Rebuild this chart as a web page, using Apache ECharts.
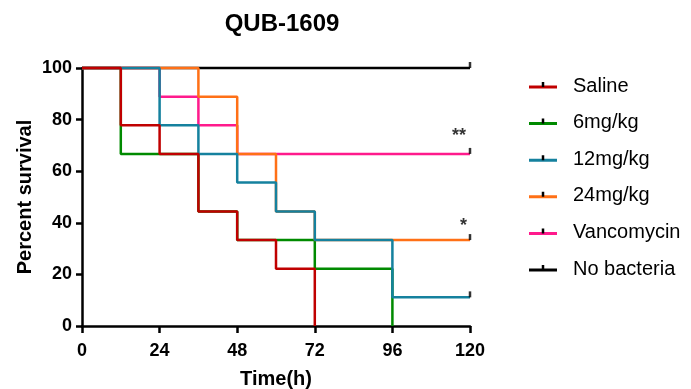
<!DOCTYPE html>
<html>
<head>
<meta charset="utf-8">
<script src="https://cdn.jsdelivr.net/npm/echarts@6/dist/echarts.min.js"></script>
<style>
  html, body { margin: 0; padding: 0; background: #fff; }
  #chart { width: 691px; height: 389px; }
</style>
</head>
<body>
<div id="chart"></div>
<script>
// survival data (Kaplan-Meier steps), time in hours, percent survival
var groups = ['Saline', '6mg/kg', '12mg/kg', '24mg/kg', 'Vancomycin', 'No bacteria'];
var colors = ['#c00000', '#008a00', '#15819e', '#ff7016', '#ff1a8c', '#000000'];

var salineT = [0, 12, 24, 36, 48, 60, 72];
var salineS = [100, 77.8, 66.7, 44.4, 33.3, 22.2, 0];
var mg6T = [0, 12, 36, 48, 72, 96];
var mg6S = [100, 66.7, 44.4, 33.3, 22.2, 0];
var mg12T = [0, 24, 36, 48, 60, 72, 96, 120];
var mg12S = [100, 77.8, 66.7, 55.6, 44.4, 33.3, 11.1, 11.1];
var mg24T = [0, 36, 48, 60, 72, 120];
var mg24S = [100, 88.9, 66.7, 44.4, 33.3, 33.3];
var vancT = [0, 24, 36, 48, 120];
var vancS = [100, 88.9, 77.8, 66.7, 66.7];
var noneT = [0, 120];
var noneS = [100, 100];

// censored marks at end of study
var censorT = [120, 120, 120, 120];
var censorS = [100, 66.7, 33.3, 11.1];

// significance marks
var sigT = [120, 120];
var sigS = [66.7, 33.3];
var sigText = ['**', '*'];
var sigOffset = [[-4, -4], [-3, 0]];

var xTicks = [0, 24, 48, 72, 96, 120];

var font = 'Arial, "Liberation Sans", sans-serif';

function pairs(t, s) {
  return t.map(function (v, i) { return [v, s[i]]; });
}

function legendIcon(color) {
  var svg = '<svg xmlns="http://www.w3.org/2000/svg" width="39" height="12">' +
    '<line x1="0" y1="7" x2="28" y2="7" stroke="' + color + '" stroke-width="3"/>' +
    '<line x1="14" y1="2" x2="14" y2="7" stroke="#000" stroke-width="2.5"/>' +
    '</svg>';
  return 'image://data:image/svg+xml;charset=utf-8,' + encodeURIComponent(svg);
}

var seriesData = [salineS, mg6S, mg12S, mg24S, vancS, noneS];
var seriesTime = [salineT, mg6T, mg12T, mg24T, vancT, noneT];
// drawing order bottom -> top
var zOrder = [6, 1, 5, 4, 3, 0];

var series = groups.map(function (name, i) {
  return {
    name: name,
    type: 'line',
    step: 'end',
    data: pairs(seriesTime[i], seriesData[i]),
    showSymbol: false,
    symbol: 'none',
    clip: false,
    z: 2 + zOrder[i],
    lineStyle: { color: colors[i], width: 2.5 },
    itemStyle: { color: colors[i] },
    emphasis: { disabled: true },
    animation: false
  };
});

series.push({
  name: 'censor',
  type: 'scatter',
  data: pairs(censorT, censorS),
  symbol: 'rect',
  symbolSize: [2.5, 6],
  symbolOffset: [0, -3],
  itemStyle: { color: '#000' },
  z: 20,
  animation: false
});

series.push({
  name: 'sig',
  type: 'scatter',
  data: sigT.map(function (t, i) {
    return { value: [t, sigS[i], sigText[i]], label: { offset: sigOffset[i] } };
  }),
  symbolSize: 0,
  label: {
    show: true,
    position: 'top',
    align: 'right',
    formatter: function (p) { return p.value[2]; },
    color: '#000',
    fontSize: 18,
    fontWeight: 'bold',
    fontFamily: font
  },
  z: 20,
  animation: false
});

var chart = echarts.init(document.getElementById('chart'));
chart.setOption({
  backgroundColor: '#ffffff',
  animation: false,
  title: {
    text: 'QUB-1609',
    left: 277,
    textAlign: 'center',
    top: 7,
    textStyle: { fontFamily: font, fontSize: 24, fontWeight: 'bold', color: '#000' }
  },
  legend: {
    orient: 'vertical',
    left: 524,
    top: 71,
    itemWidth: 39,
    itemHeight: 12,
    itemGap: 16.6,
    data: groups.map(function (g, i) { return { name: g, icon: legendIcon(colors[i]) }; }),
    textStyle: { fontFamily: font, fontSize: 20, color: '#000', lineHeight: 20 },
    selectedMode: false
  },
  grid: { left: 82, right: 221, top: 68, bottom: 63, outerBoundsMode: 'none', containLabel: false },
  xAxis: {
    type: 'value',
    min: 0,
    max: 120,
    interval: 24,
    name: 'Time(h)',
    nameLocation: 'middle',
    nameGap: 43,
    nameMoveOverlap: false,
    nameTextStyle: { fontFamily: font, fontSize: 20, fontWeight: 'bold', color: '#000' },
    axisLine: { show: true, onZero: false, lineStyle: { color: '#000', width: 2.5 } },
    axisTick: { show: true, length: 7, lineStyle: { color: '#000', width: 2.5 } },
    axisLabel: {
      margin: 16,
      color: '#000',
      fontFamily: font,
      fontSize: 18,
      fontWeight: 'bold',
      customValues: xTicks
    },
    splitLine: { show: false }
  },
  yAxis: {
    type: 'value',
    min: 0,
    max: 100,
    interval: 20,
    name: 'Percent survival',
    nameLocation: 'middle',
    nameGap: 47,
    nameMoveOverlap: false,
    nameTextStyle: { fontFamily: font, fontSize: 20, fontWeight: 'bold', color: '#000' },
    axisLine: { show: true, onZero: false, lineStyle: { color: '#000', width: 2.5 } },
    axisTick: { show: true, length: 6, lineStyle: { color: '#000', width: 2.5 } },
    axisLabel: { margin: 10, color: '#000', fontFamily: font, fontSize: 18, fontWeight: 'bold' },
    splitLine: { show: false }
  },
  series: series
});
</script>
</body>
</html>
